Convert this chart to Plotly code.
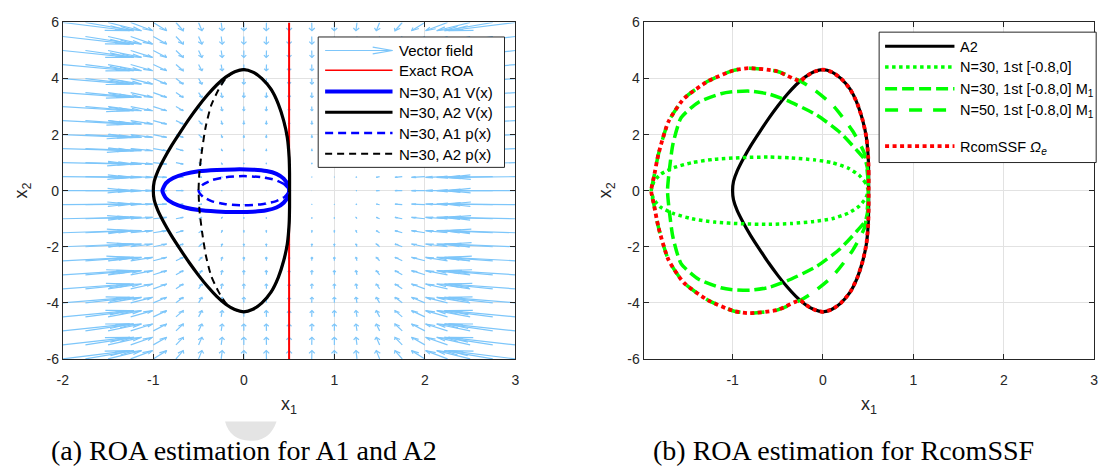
import numpy as np
import plotly.graph_objects as go

W, H = 1120, 469

# ---------------- data ----------------
# vector-field grid (x1, x2)
QV_X1 = [-2.0, -1.75, -1.5, -1.25, -1.0, -0.75, -0.5, -0.25, 0.0, 0.25, 0.5,
         0.75, 1.0, 1.25, 1.5, 1.75, 2.0, 2.25, 2.5, 2.75, 3.0]
QV_X2 = [-6.0, -5.5, -5.0, -4.5, -4.0, -3.5, -3.0, -2.5, -2.0, -1.5, -1.0, -0.5, 0.0,
         0.5, 1.0, 1.5, 2.0, 2.5, 3.0, 3.5, 4.0, 4.5, 5.0, 5.5, 6.0]

EXACT_X1 = [0.5, 0.5]
EXACT_X2 = [-6.0, 6.0]

# upper halves (x2 >= 0); the curves are symmetric in x2
A1V_X1 = [0.50, 0.49, 0.44, 0.36, 0.25, 0.10, -0.10, -0.30, -0.50, -0.65, -0.78, -0.86, -0.90]
A1V_X2 = [0.00, 0.18, 0.43, 0.60, 0.70, 0.75, 0.76, 0.74, 0.69, 0.60, 0.45, 0.27, 0.00]

A1P_X1 = [0.50, 0.45, 0.35, 0.20, 0.00, -0.20, -0.35, -0.45, -0.50]
A1P_X2 = [0.00, 0.22, 0.38, 0.48, 0.52, 0.48, 0.38, 0.22, 0.00]

A2_RIGHT_X1 = [0.505, 0.505, 0.50, 0.48, 0.44, 0.38, 0.30, 0.20, 0.10, 0.00]
A2_RIGHT_X2 = [0.00, 0.60, 1.20, 1.90, 2.50, 3.10, 3.62, 4.00, 4.23, 4.32]
A2_LEFT_X1 = [-0.10, -0.20, -0.30, -0.40, -0.50, -0.60, -0.70, -0.80, -0.88, -0.95, -0.99, -1.00]
A2_LEFT_X2 = [4.24, 4.05, 3.77, 3.42, 3.02, 2.58, 2.10, 1.60, 1.15, 0.70, 0.33, 0.00]

A2P_LEFT_X1 = [-0.10, -0.20, -0.28, -0.36, -0.42, -0.46, -0.49, -0.50]
A2P_LEFT_X2 = [4.24, 4.00, 3.60, 3.05, 2.30, 1.50, 0.70, 0.00]

N30_X1 = [0.50, 0.47, 0.40, 0.28, 0.10, -0.10, -0.35, -0.60, -0.90, -1.20, -1.45, -1.65, -1.80, -1.87, -1.90]
N30_X2 = [0.00, 0.28, 0.55, 0.80, 1.00, 1.10, 1.17, 1.20, 1.18, 1.12, 1.00, 0.82, 0.58, 0.32, 0.00]

N30M_X1 = [0.50, 0.50, 0.47, 0.38, 0.19, -0.07, -0.40, -0.60, -0.80, -1.00, -1.13, -1.38, -1.57, -1.66, -1.70, -1.72]
N30M_X2 = [0.00, 0.60, 1.07, 1.42, 2.07, 2.70, 3.22, 3.45, 3.55, 3.53, 3.46, 3.15, 2.60, 1.66, 0.73, 0.00]

N50_RIGHT_X1 = [0.50, 0.50, 0.46, 0.33, 0.11, -0.11]
N50_RIGHT_X2 = [0.00, 0.30, 1.31, 2.12, 3.04, 3.63]
N50_LEFT_X1 = [-0.25, -0.51, -0.82, -0.99, -1.27, -1.54, -1.71, -1.82, -1.87, -1.90]
N50_LEFT_X2 = [3.91, 4.26, 4.37, 4.29, 3.91, 3.28, 2.46, 1.31, 0.50, 0.00]

XT_A = [-2, -1, 0, 1, 2, 3]
XT_B = [-1, 0, 1, 2, 3]
YT = [-6, -4, -2, 0, 2, 4, 6]


def closed(xu, yu):
    xs = list(xu) + list(xu[::-1][1:])
    ys = list(yu) + [-v for v in yu[::-1][1:]]
    return xs, ys


def quiver(xg, yg, gain=1.65):
    X, Y = np.meshgrid(np.array(xg), np.array(yg))
    U = -X * (X - 0.5) * (X - 1.0)
    V = -Y
    m, n = X.shape
    delx = (X.max() - X.min()) / n
    dely = (Y.max() - Y.min()) / m
    d = delx ** 2 + dely ** 2
    maxlen = np.sqrt((U ** 2 + V ** 2) / d).max()
    s = gain * 0.9 / maxlen
    U = U * s
    V = V * s
    a, b = 0.33, 0.33
    xs, ys = [], []
    for x, y, u, v in zip(X.ravel(), Y.ravel(), U.ravel(), V.ravel()):
        if abs(u) + abs(v) < 1e-9:
            continue
        xs += [x, x + u, None, x + u - a * (u + b * v), x + u, x + u - a * (u - b * v), None]
        ys += [y, y + v, None, y + v - a * (v - b * u), y + v, y + v - a * (v + b * u), None]
    return xs, ys


QCOL = "rgb(125,198,250)"
fig = go.Figure()

qx, qy = quiver(QV_X1, QV_X2)
fig.add_trace(go.Scatter(x=qx, y=qy, mode="lines", line=dict(color=QCOL, width=1.2),
                         xaxis="x", yaxis="y", hoverinfo="skip"))
fig.add_trace(go.Scatter(x=EXACT_X1, y=EXACT_X2, mode="lines", line=dict(color="red", width=2),
                         xaxis="x", yaxis="y"))

sp = dict(shape="spline", smoothing=0.6)
x, y = closed(A1V_X1, A1V_X2)
fig.add_trace(go.Scatter(x=x, y=y, mode="lines", line=dict(color="blue", width=4, **sp), xaxis="x", yaxis="y"))
x, y = closed(A2_RIGHT_X1 + A2_LEFT_X1, A2_RIGHT_X2 + A2_LEFT_X2)
fig.add_trace(go.Scatter(x=x, y=y, mode="lines", line=dict(color="black", width=3.2, **sp), xaxis="x", yaxis="y"))
x, y = closed(A1P_X1, A1P_X2)
fig.add_trace(go.Scatter(x=x, y=y, mode="lines", line=dict(color="blue", width=2.5, dash="8px,5px", **sp), xaxis="x", yaxis="y"))
x, y = closed(A2_RIGHT_X1 + A2P_LEFT_X1, A2_RIGHT_X2 + A2P_LEFT_X2)
fig.add_trace(go.Scatter(x=x, y=y, mode="lines", line=dict(color="black", width=2, dash="7px,5px", **sp), xaxis="x", yaxis="y"))

# right panel
LIME = "rgb(0,255,0)"
x, y = closed(A2_RIGHT_X1 + A2_LEFT_X1, A2_RIGHT_X2 + A2_LEFT_X2)
fig.add_trace(go.Scatter(x=x, y=y, mode="lines", line=dict(color="black", width=3.2, **sp), xaxis="x2", yaxis="y2"))
x, y = closed(N30_X1, N30_X2)
fig.add_trace(go.Scatter(x=x, y=y, mode="lines", line=dict(color=LIME, width=3.5, dash="3.5px,3.5px", **sp), xaxis="x2", yaxis="y2"))
x, y = closed(N30M_X1, N30M_X2)
fig.add_trace(go.Scatter(x=x, y=y, mode="lines", line=dict(color=LIME, width=3.5, dash="12px,5px", **sp), xaxis="x2", yaxis="y2"))
x, y = closed(N50_RIGHT_X1 + N50_LEFT_X1, N50_RIGHT_X2 + N50_LEFT_X2)
fig.add_trace(go.Scatter(x=x, y=y, mode="lines", line=dict(color=LIME, width=3.5, dash="13px,11px", **sp), xaxis="x2", yaxis="y2"))
x, y = closed(A2_RIGHT_X1 + A2_LEFT_X1[:2] + N50_LEFT_X1, A2_RIGHT_X2 + A2_LEFT_X2[:2] + N50_LEFT_X2)
fig.add_trace(go.Scatter(x=x, y=y, mode="lines", line=dict(color="red", width=3.8, dash="4px,3.5px", **sp), xaxis="x2", yaxis="y2"))


def px(v):
    return v / W


def py(v):
    return 1 - v / H


AX = "#262626"
TF = dict(family="Liberation Sans, Arial, sans-serif", size=14, color=AX)
common = dict(ticks="inside", ticklen=5, tickcolor=AX, showline=True, linecolor=AX, linewidth=1,
              mirror="ticks", showgrid=True, gridcolor="#e2e2e2", gridwidth=1, zeroline=False,
              tickfont=TF, fixedrange=True)
ydom = [py(363.3), py(15)]
fig.update_layout(
    width=W, height=H, margin=dict(l=0, r=0, t=0, b=0), showlegend=False,
    paper_bgcolor="white", plot_bgcolor="white",
    xaxis=dict(domain=[px(57.3), px(514)], range=[-2, 3], tickvals=XT_A, ticktext=[str(t) for t in XT_A],
               anchor="y", ticklabelstandoff=8, **common),
    yaxis=dict(domain=ydom, range=[-6, 6], tickvals=YT, ticktext=[str(t) for t in YT], anchor="x", **common),
    xaxis2=dict(domain=[px(643.3), px(1098)], range=[-1.985, 3], tickvals=XT_B, ticktext=[str(t) for t in XT_B],
                anchor="y2", ticklabelstandoff=8, **common),
    yaxis2=dict(domain=ydom, range=[-6, 6], tickvals=YT, ticktext=[str(t) for t in YT], anchor="x2", **common),
)

shapes = []
ann = []


def hline(x0, x1, y, color, width, dash="solid"):
    shapes.append(dict(type="line", xref="paper", yref="paper", x0=px(x0), x1=px(x1), y0=py(y), y1=py(y),
                       line=dict(color=color, width=width, dash=dash), layer="above"))


def text(x, y, s, size):
    ann.append(dict(x=px(x), y=py(y), xref="paper", yref="paper", text=s, showarrow=False,
                    xanchor="left", yanchor="middle",
                    font=dict(family="Liberation Sans, Arial, sans-serif", size=size, color="black")))


# faint grey mark behind the left caption
shapes.append(dict(type="path", xref="paper", yref="paper", layer="below",
                   path=(f"M {px(221)},{py(428)} L {px(273)},{py(428)} "
                         f"Q {px(266)},{py(449)} {px(246)},{py(448)} "
                         f"Q {px(226)},{py(447)} {px(221)},{py(428)} Z"),
                   fillcolor="#e4e4e4", line=dict(width=0)))

# left legend
shapes.append(dict(type="rect", xref="paper", yref="paper", x0=px(315), x1=px(503), y0=py(165), y1=py(30),
                   line=dict(color=AX, width=1), fillcolor="white", layer="above"))
rows = [44, 64.5, 86.5, 108, 129.5, 151]
hline(322, 390, rows[0], QCOL, 1.2)
shapes.append(dict(type="path", xref="paper", yref="paper", layer="above",
                   path=f"M {px(370)},{py(rows[0]-3.5)} L {px(390)},{py(rows[0])} L {px(370)},{py(rows[0]+3.5)}",
                   line=dict(color=QCOL, width=1.2)))
hline(322, 390, rows[1], "red", 1.5)
hline(322, 390, rows[2], "blue", 4)
hline(322, 390, rows[3], "black", 3)
hline(322, 390, rows[4], "blue", 2.5, "8px,5px")
hline(322, 390, rows[5], "black", 2, "7px,5px")
labs = ["Vector field", "Exact ROA", "N=30, A1 V(x)", "N=30, A2 V(x)", "N=30, A1 p(x)", "N=30, A2 p(x)"]
for r, s in zip(rows, labs):
    text(395, r + 0.5, s, 15)

# right legend
shapes.append(dict(type="rect", xref="paper", yref="paper", x0=px(881), x1=px(1100), y0=py(160), y1=py(25),
                   line=dict(color=AX, width=1), fillcolor="white", layer="above"))
rrows = [39.5, 61, 83.5, 105.5, 143]
hline(887, 957, rrows[0], "black", 3)
hline(887, 957, rrows[1], LIME, 3.5, "3.5px,3.5px")
hline(887, 957, rrows[2], LIME, 3.5, "12px,5px")
hline(887, 957, rrows[3], LIME, 3.5, "13px,11px")
hline(887, 957, rrows[4], "red", 3.8, "4px,3.5px")
text(961, 40.5, "A2", 14.5)
text(961, 61.5, "N=30, 1st [-0.8,0]", 14.5)
text(961, 85, "N=30, 1st [-0.8,0] M<sub>1</sub>", 14.5)
text(961, 107, "N=50, 1st [-0.8,0] M<sub>1</sub>", 14.5)
text(961, 145, "RcomSSF <i>Ω</i><sub><i>e</i></sub>", 14.5)

# axis titles
TT = dict(family="Liberation Sans, Arial, sans-serif", size=18, color=AX)
for xc in [(57.3 + 514) / 2, (643.3 + 1098) / 2]:
    ann.append(dict(x=px(xc), y=py(412), xref="paper", yref="paper", text="x<sub>1</sub>", showarrow=False,
                    xanchor="center", yanchor="middle", font=TT))
for xc in [17, 606]:
    ann.append(dict(x=px(xc), y=py(189), xref="paper", yref="paper", text="x<sub>2</sub>", showarrow=False,
                    xanchor="center", yanchor="middle", textangle=-90, font=TT))

# captions
CF = dict(family="Liberation Serif, Times New Roman, serif", size=28, color="black")
ann.append(dict(x=px(240), y=py(458), xref="paper", yref="paper", text="(a) ROA estimation for A1 and A2",
                showarrow=False, xanchor="center", yanchor="middle", font=CF))
ann.append(dict(x=px(845), y=py(458), xref="paper", yref="paper", text="(b) ROA estimation for RcomSSF",
                showarrow=False, xanchor="center", yanchor="middle", font=CF))

fig.update_layout(shapes=shapes, annotations=ann)
fig.write_html("out.html")
